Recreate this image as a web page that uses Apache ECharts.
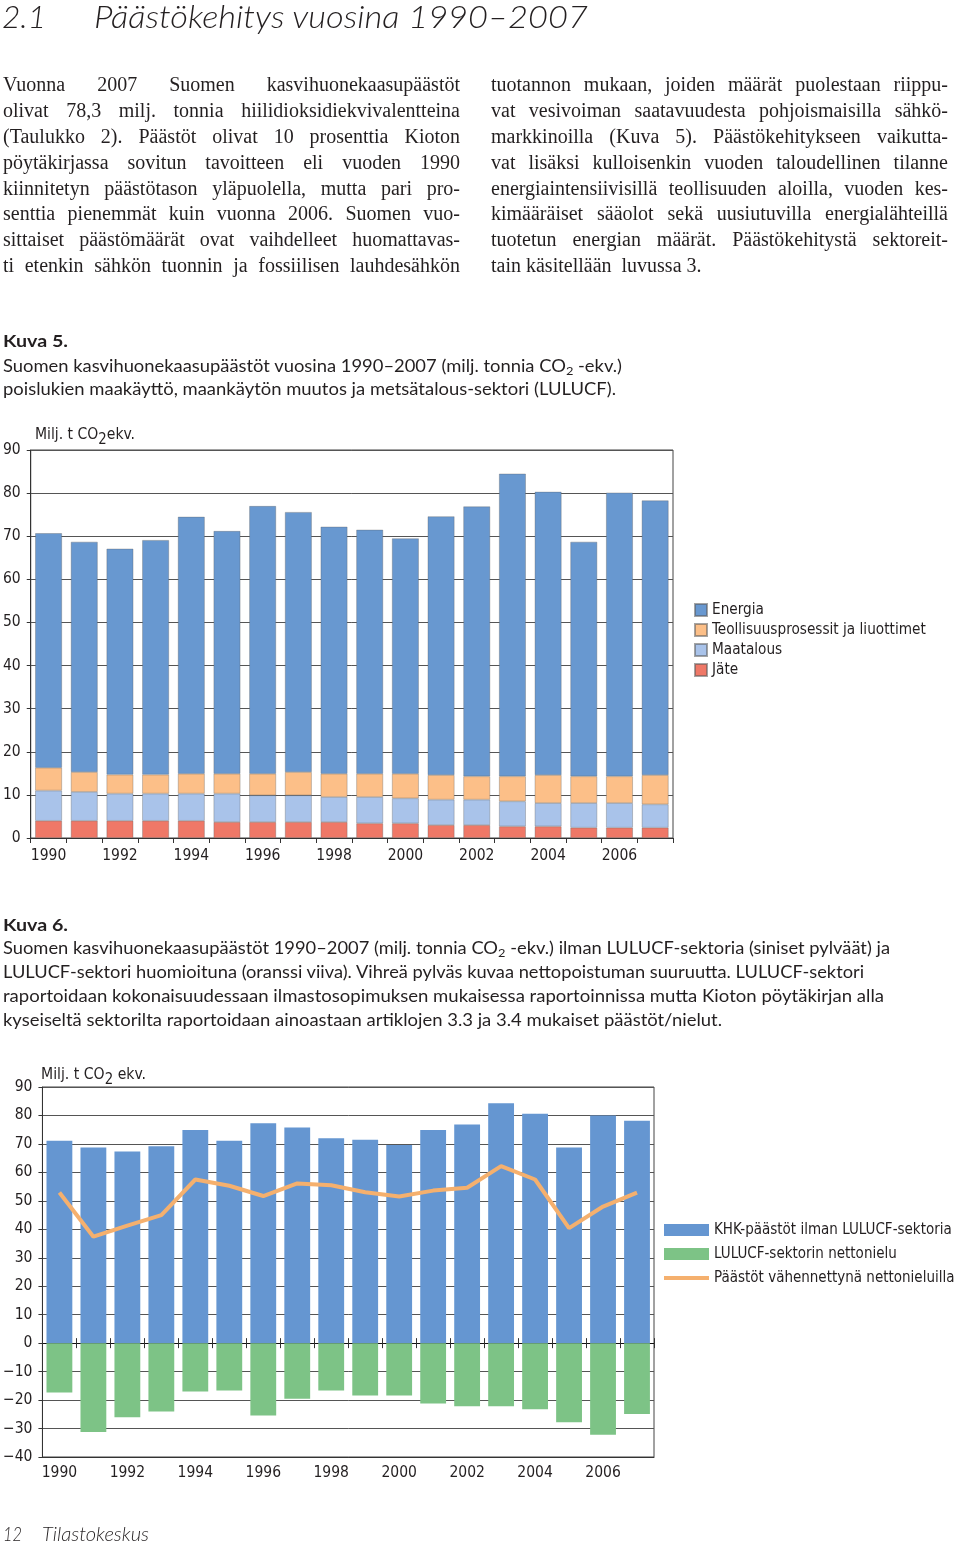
<!DOCTYPE html>
<html><head><meta charset="utf-8">
<script src="https://cdn.jsdelivr.net/npm/echarts@6/dist/echarts.min.js"></script>
<style>
html,body{margin:0;padding:0;background:#fff;}
#page{position:relative;width:960px;height:1543px;overflow:hidden;background:#fff;}
#chart{position:absolute;left:0;top:0;width:960px;height:1543px;}
.t{position:absolute;white-space:nowrap;color:#231f20;transform-origin:0 50%;z-index:2;display:inline-block;}
.sans{font-family:Lato,"Open Sans","Noto Sans",sans-serif;font-size:17px;line-height:24px;}
.narrow{font-family:"Liberation Sans Narrow","DejaVu Sans Condensed",sans-serif;font-size:16px;line-height:22px;}
.col{position:absolute;width:457px;top:72px;font-family:"Liberation Serif","DejaVu Serif",serif;font-size:20px;line-height:25.9px;color:#231f20;z-index:2;}
.jl{height:25.9px;text-align:justify;text-align-last:justify;white-space:normal;}
.jl.last{text-align-last:left;}
sub{font-size:70%;vertical-align:-0.25em;line-height:0;}
.narrow sub{font-size:95%;vertical-align:-0.3em;}
</style></head>
<body>
<div id="page">
<div id="chart"></div>

<div class="t" data-w="44" style="left:2px;top:-3px;font-family:Lato,'Open Sans',sans-serif;font-style:italic;font-weight:300;font-size:31px;line-height:38px;">2.1</div>
<div class="t" data-w="494" style="left:94px;top:-3px;font-family:Lato,'Open Sans',sans-serif;font-style:italic;font-weight:300;font-size:31px;line-height:38px;">Päästökehitys vuosina 1990–2007</div>

<div class="col" style="left:3px;">
<div class="jl">Vuonna 2007 Suomen kasvihuonekaasupäästöt</div>
<div class="jl">olivat 78,3 milj. tonnia hiilidioksidiekvivalentteina</div>
<div class="jl">(Taulukko 2). Päästöt olivat 10 prosenttia Kioton</div>
<div class="jl">pöytäkirjassa sovitun tavoitteen eli vuoden 1990</div>
<div class="jl">kiinnitetyn päästötason yläpuolella, mutta pari pro-</div>
<div class="jl">senttia pienemmät kuin vuonna 2006. Suomen vuo-</div>
<div class="jl">sittaiset päästömäärät ovat vaihdelleet huomattavas-</div>
<div class="jl">ti etenkin sähkön tuonnin ja fossiilisen lauhdesähkön</div>
</div>
<div class="col" style="left:491px;">
<div class="jl">tuotannon mukaan, joiden määrät puolestaan riippu-</div>
<div class="jl">vat vesivoiman saatavuudesta pohjoismaisilla sähkö-</div>
<div class="jl">markkinoilla (Kuva 5). Päästökehitykseen vaikutta-</div>
<div class="jl">vat lisäksi kulloisenkin vuoden taloudellinen tilanne</div>
<div class="jl">energiaintensiivisillä teollisuuden aloilla, vuoden kes-</div>
<div class="jl">kimääräiset sääolot sekä uusiutuvilla energialähteillä</div>
<div class="jl">tuotetun energian määrät. Päästökehitystä sektoreit-</div>
<div class="jl last">tain käsitellään&nbsp; luvussa 3.</div>
</div>

<div class="t sans" data-w="65" style="left:3px;top:329px;font-weight:700;">Kuva 5.</div>
<div class="t sans" data-w="619" style="left:3px;top:354px;">Suomen kasvihuonekaasupäästöt vuosina 1990–2007 (milj. tonnia CO<sub>2</sub> -ekv.)</div>
<div class="t sans" data-w="613" style="left:3px;top:377px;">poislukien maakäyttö, maankäytön muutos ja metsätalous-sektori (LULUCF).</div>

<div class="t narrow" data-w="100" style="left:35px;top:423px;">Milj. t CO<sub>2</sub>ekv.</div>

<div class="t sans" data-w="65" style="left:3px;top:913px;font-weight:700;">Kuva 6.</div>
<div class="t sans" data-w="887" style="left:3px;top:936px;">Suomen kasvihuonekaasupäästöt 1990–2007 (milj. tonnia CO<sub>2</sub> -ekv.) ilman LULUCF-sektoria (siniset pylväät) ja</div>
<div class="t sans" data-w="861" style="left:3px;top:960px;">LULUCF-sektori huomioituna (oranssi viiva). Vihreä pylväs kuvaa nettopoistuman suuruutta. LULUCF-sektori</div>
<div class="t sans" data-w="881" style="left:3px;top:984px;">raportoidaan kokonaisuudessaan ilmastosopimuksen mukaisessa raportoinnissa mutta Kioton pöytäkirjan alla</div>
<div class="t sans" data-w="719" style="left:3px;top:1008px;">kyseiseltä sektorilta raportoidaan ainoastaan artiklojen 3.3 ja 3.4 mukaiset päästöt/nielut.</div>

<div class="t narrow" data-w="105" style="left:41px;top:1063px;">Milj. t CO<sub>2</sub> ekv.</div>

<div class="t" data-w="19" style="left:3px;top:1522px;font-family:Lato,'Open Sans',sans-serif;font-style:italic;font-weight:300;font-size:19px;line-height:24px;">12</div>
<div class="t" data-w="107" style="left:42px;top:1522px;font-family:Lato,'Open Sans',sans-serif;font-style:italic;font-weight:300;font-size:19px;line-height:24px;">Tilastokeskus</div>
</div>

<script>
// ---------- data ----------
const years = ['1990','1991','1992','1993','1994','1995','1996','1997','1998','1999','2000','2001','2002','2003','2004','2005','2006','2007'];
// Kuva 5 (stacked components, milj. t CO2-ekv.)
const energia     = [54.4,53.4,52.4,54.4,59.6,56.3,62.1,60.3,57.3,56.6,54.6,60.0,62.6,70.2,65.7,54.4,65.8,63.7];
const teollisuus  = [5.3,4.6,4.4,4.4,4.6,4.6,5.0,5.4,5.4,5.4,5.7,5.7,5.4,5.8,6.5,6.2,6.2,6.8];
const maatalous   = [7.0,6.7,6.3,6.3,6.3,6.6,6.2,6.2,5.8,6.1,5.8,5.9,5.9,5.8,5.4,5.7,5.7,5.4];
const jate        = [4.0,4.0,4.0,4.0,4.0,3.7,3.7,3.7,3.7,3.4,3.4,3.0,3.0,2.7,2.7,2.4,2.4,2.4];
// Kuva 6
const khk         = [71.1,68.7,67.3,69.2,74.9,71.1,77.3,75.8,72.0,71.5,69.6,74.9,76.8,84.3,80.6,68.7,80.0,78.1];
const lulucf      = [-17.3,-31.2,-26.0,-24.0,-17.0,-16.6,-25.4,-19.5,-16.6,-18.4,-18.4,-21.2,-22.2,-22.2,-23.2,-27.8,-32.2,-24.9];
const netto       = [52.9,37.4,41.3,45.0,57.5,55.3,51.7,56.1,55.5,53.0,51.5,53.6,54.6,62.2,57.5,40.4,48.0,52.9];
const names1 = ['Energia','Teollisuusprosessit ja liuottimet','Maatalous','Jäte'];
const names2 = ['KHK-päästöt ilman LULUCF-sektoria','LULUCF-sektorin nettonielu','Päästöt vähennettynä nettonieluilla'];

// ---------- chart ----------
const FONT = '"Liberation Sans Narrow","DejaVu Sans Condensed",sans-serif';
const TXT = '#231f20';
const GRIDC = '#555';
const chart = echarts.init(document.getElementById('chart'), null, {renderer:'canvas'});

const catAxisBase = (grid) => ({
  type:'category', gridIndex:grid, data:years, boundaryGap:true
});
const minus = v => String(v).replace('-', '−');

chart.setOption({
  animation:false,
  backgroundColor:'transparent',
  grid:[
    {left:29, top:450, width:644, height:388, show:true, borderColor:'#444', borderWidth:1, backgroundColor:'transparent'},
    {left:41, top:1087, width:613, height:370, show:true, borderColor:'#444', borderWidth:1, backgroundColor:'transparent'}
  ],
  xAxis:[
    Object.assign(catAxisBase(0), {
      axisLine:{show:true, lineStyle:{color:'#333', width:1}},
      axisTick:{show:true, interval:0, length:5, lineStyle:{color:'#333'}},
      axisLabel:{interval:1, fontSize:15.5, color:TXT, fontFamily:FONT, margin:10}
    }),
    Object.assign(catAxisBase(1), {
      position:'bottom',
      axisLine:{show:true, onZero:false, lineStyle:{color:'#333', width:1}},
      axisTick:{show:false},
      axisLabel:{interval:1, fontSize:15.5, color:TXT, fontFamily:FONT, margin:8}
    }),
    Object.assign(catAxisBase(1), {
      position:'bottom',
      axisLine:{show:true, onZero:true, onZeroAxisIndex:1, lineStyle:{color:'#111', width:1}},
      axisTick:{show:true, interval:0, length:5, lineStyle:{color:'#333'}},
      axisLabel:{show:false}
    }),
    Object.assign(catAxisBase(1), {
      position:'bottom',
      axisLine:{show:false, onZero:true, onZeroAxisIndex:1},
      axisTick:{show:true, inside:true, interval:0, length:5, lineStyle:{color:'#333'}},
      axisLabel:{show:false}
    })
  ],
  yAxis:[
    {type:'value', gridIndex:0, min:0, max:90, interval:10,
     axisLine:{show:true, lineStyle:{color:'#333'}},
     axisTick:{show:true, length:4, lineStyle:{color:'#333'}},
     splitLine:{show:true, lineStyle:{color:GRIDC, width:1}},
     axisLabel:{fontSize:15.5, color:TXT, fontFamily:FONT, margin:10}},
    {type:'value', gridIndex:1, min:-40, max:90, interval:10,
     axisLine:{show:true, lineStyle:{color:'#333'}},
     axisTick:{show:true, length:4, lineStyle:{color:'#333'}},
     splitLine:{show:true, lineStyle:{color:GRIDC, width:1}},
     axisLabel:{fontSize:15.5, color:TXT, fontFamily:FONT, margin:10, formatter:minus}}
  ],
  legend:[
    {data:names1, orient:'vertical', left:694, top:600, padding:0, itemWidth:12, itemHeight:12, itemGap:0,
     icon:'rect', selectedMode:false,
     textStyle:{fontSize:15.2, color:TXT, fontFamily:FONT, lineHeight:20}},
    {data:[
       {name:names2[0], icon:'rect'},
       {name:names2[1], icon:'rect'},
       {name:names2[2], icon:'path://M0,0 L45,0 L45,4 L0,4 Z'}
     ],
     orient:'vertical', left:664, top:1218, padding:0, itemWidth:45, itemHeight:12, itemGap:0,
     selectedMode:false, symbolKeepAspect:true,
     textStyle:{fontSize:15, color:TXT, fontFamily:FONT, lineHeight:24}}
  ],
  series:[
    {name:'Jäte', type:'bar', stack:'s1', xAxisIndex:0, yAxisIndex:0, data:jate, barCategoryGap:'25%',
     itemStyle:{color:'#ef7867', borderColor:'rgba(90,90,90,0.55)', borderWidth:0.6}},
    {name:'Maatalous', type:'bar', stack:'s1', xAxisIndex:0, yAxisIndex:0, data:maatalous, barCategoryGap:'25%',
     itemStyle:{color:'#a9c3ea', borderColor:'rgba(90,90,90,0.55)', borderWidth:0.6}},
    {name:'Teollisuusprosessit ja liuottimet', type:'bar', stack:'s1', xAxisIndex:0, yAxisIndex:0, data:teollisuus, barCategoryGap:'25%',
     itemStyle:{color:'#fcbf88', borderColor:'rgba(90,90,90,0.55)', borderWidth:0.6}},
    {name:'Energia', type:'bar', stack:'s1', xAxisIndex:0, yAxisIndex:0, data:energia, barCategoryGap:'25%',
     itemStyle:{color:'#6898d0', borderColor:'rgba(90,90,90,0.55)', borderWidth:0.6}},
    {name:'KHK-päästöt ilman LULUCF-sektoria', type:'bar', stack:'s2', xAxisIndex:1, yAxisIndex:1, data:khk, barCategoryGap:'24%',
     itemStyle:{color:'#6596d1'}},
    {name:'LULUCF-sektorin nettonielu', type:'bar', stack:'s2', xAxisIndex:1, yAxisIndex:1, data:lulucf, barCategoryGap:'24%',
     itemStyle:{color:'#7dc386'}},
    {name:'Päästöt vähennettynä nettonieluilla', type:'line', xAxisIndex:1, yAxisIndex:1, data:netto,
     symbol:'none', z:5, lineStyle:{color:'#f5b06e', width:4}, itemStyle:{color:'#f5b06e'}}
  ]
});

// ---------- text fitting ----------
function naturalWidth(el){
  const s = document.createElement('span');
  const cs = getComputedStyle(el);
  s.style.cssText = 'position:absolute;visibility:hidden;white-space:nowrap;left:0;top:0;';
  s.style.font = cs.font;
  s.style.letterSpacing = cs.letterSpacing;
  s.innerHTML = el.innerHTML;
  document.body.appendChild(s);
  const w = s.getBoundingClientRect().width;
  s.remove();
  return w;
}
document.querySelectorAll('.t[data-w]').forEach(el=>{
  const target = parseFloat(el.dataset.w);
  const w = el.getBoundingClientRect().width;
  if (w > 0) el.style.transform = 'scaleX(' + (target / w).toFixed(4) + ')';
});
document.querySelectorAll('.jl').forEach(el=>{
  const W = el.clientWidth;
  const nw = naturalWidth(el);
  const limit = el.classList.contains('last') ? 1e9 : W - 2;
  if (nw > limit) {
    const n = el.textContent.length;
    el.style.letterSpacing = ((limit - nw) / n).toFixed(3) + 'px';
  }
});
</script>
</body></html>
